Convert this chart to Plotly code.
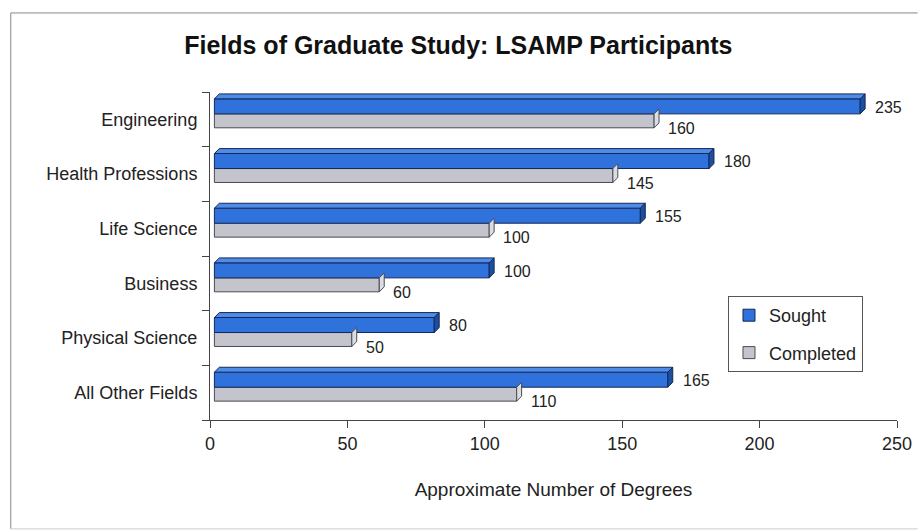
import plotly.graph_objects as go

categories = ["Engineering", "Health Professions", "Life Science", "Business",
              "Physical Science", "All Other Fields"]
sought = [235, 180, 155, 100, 80, 165]
completed = [160, 145, 100, 60, 50, 110]
x_ticks = [0, 50, 100, 150, 200, 250]

FONT = "Liberation Sans, Arial, sans-serif"
BLUE = "#2f72dc"
BLUE_TOP = "#4f8ce8"
BLUE_END = "#1c4f9e"
BLUE_LINE = "#14285a"
GREY = "#c3c4cc"
GREY_END = "#dcdde2"
GREY_LINE = "#4a4a55"

pos = list(range(len(categories)))
B_OFF, B_W = -0.375, 0.275
G_OFF, G_W = -0.10, 0.255
DX, DY = 1.8, 0.09  # 3-D depth in axis units
BASE = 1.6          # front face sits slightly off the back wall (3-D look)

fig = go.Figure()

fig.add_trace(go.Bar(
    y=pos, x=completed, base=BASE, orientation="h", name="Completed",
    offset=G_OFF, width=G_W, marker=dict(color=GREY, line=dict(color=GREY_LINE, width=1)),
    legendrank=2, legendgroup="c", hoverinfo="skip"))

gx, gy = [], []
for p, v in zip(pos, completed):
    y0, y1 = p + G_OFF, p + G_OFF + G_W
    e = v + BASE
    gx += [e, e + DX, e + DX, e, e, None]
    gy += [y0, y0 - DY, y1 - DY, y1, y0, None]
fig.add_trace(go.Scatter(x=gx, y=gy, mode="lines", fill="toself", fillcolor=GREY_END,
                         line=dict(color=GREY_LINE, width=1), showlegend=False, hoverinfo="skip"))

fig.add_trace(go.Bar(
    y=pos, x=sought, base=BASE, orientation="h", name="Sought",
    offset=B_OFF, width=B_W, marker=dict(color=BLUE, line=dict(color=BLUE_LINE, width=1)),
    legendrank=1, legendgroup="s", hoverinfo="skip"))

tx, ty = [], []
ex, ey = [], []
for p, v in zip(pos, sought):
    y0, y1 = p + B_OFF, p + B_OFF + B_W
    e = v + BASE
    tx += [BASE, e, e + DX, BASE + DX, BASE, None]
    ty += [y0, y0, y0 - DY, y0 - DY, y0, None]
    ex += [e, e + DX, e + DX, e, e, None]
    ey += [y0, y0 - DY, y1 - DY, y1, y0, None]
fig.add_trace(go.Scatter(x=tx, y=ty, mode="lines", fill="toself", fillcolor=BLUE_TOP,
                         line=dict(color=BLUE_LINE, width=1), showlegend=False, hoverinfo="skip"))
fig.add_trace(go.Scatter(x=ex, y=ey, mode="lines", fill="toself", fillcolor=BLUE_END,
                         line=dict(color=BLUE_LINE, width=1), showlegend=False, hoverinfo="skip"))

annotations = []
for p, s, c in zip(pos, sought, completed):
    annotations.append(dict(x=s + BASE + DX, y=p - 0.22, text=str(s), showarrow=False,
                            xanchor="left", yanchor="middle", xshift=8,
                            font=dict(family=FONT, size=16, color="#222")))
    annotations.append(dict(x=c + BASE + DX, y=p + 0.17, text=str(c), showarrow=False,
                            xanchor="left", yanchor="middle", xshift=7,
                            font=dict(family=FONT, size=16, color="#222")))

frame = dict(color="#888", width=1)
fig.update_layout(
    width=924, height=532,
    margin=dict(l=210, r=18, t=92, b=112),
    paper_bgcolor="white", plot_bgcolor="white",
    barmode="overlay",
    title=dict(text="<b>Fields of Graduate Study: LSAMP Participants</b>",
               x=0.496, xanchor="center", y=0.915, yanchor="middle",
               font=dict(family=FONT, size=25, color="#111")),
    font=dict(family=FONT, size=18, color="#222"),
    xaxis=dict(range=[0, 250], tickvals=x_ticks, ticks="outside", ticklen=7,
               tickcolor="#444", showline=True, linecolor="#444", linewidth=1,
               showgrid=False, zeroline=False,
               tickfont=dict(family=FONT, size=18, color="#222"),
               title=dict(text="Approximate Number of Degrees", standoff=30,
                          font=dict(family=FONT, size=19, color="#222"))),
    yaxis=dict(range=[5.5, -0.5], tickvals=pos, ticktext=categories, ticks="",
               showline=True, linecolor="#444", linewidth=1, showgrid=False,
               zeroline=False, ticklabelstandoff=8,
               tickfont=dict(family=FONT, size=18, color="#222"),
               minor=dict(tickvals=[p - 0.5 for p in pos] + [pos[-1] + 0.5],
                          ticks="outside", ticklen=7, tickcolor="#444", showgrid=False)),
    legend=dict(x=0.754, y=0.378, xanchor="left", yanchor="top",
                bgcolor="white", bordercolor="#555", borderwidth=1,
                font=dict(family=FONT, size=18, color="#222"),
                tracegroupgap=11, traceorder="grouped"),
    annotations=annotations,
    shapes=[
        dict(type="line", xref="paper", yref="paper", x0=-0.290, x1=-0.290,
             y0=-0.332, y1=1.241, line=frame),
        dict(type="line", xref="paper", yref="paper", x0=-0.290, x1=1.03,
             y0=1.241, y1=1.241, line=frame),
        dict(type="line", xref="paper", yref="paper", x0=-0.290, x1=1.03,
             y0=-0.332, y1=-0.332, line=dict(color="#ccc", width=1)),
    ],
    showlegend=True,
)

fig.write_html("out.html")
